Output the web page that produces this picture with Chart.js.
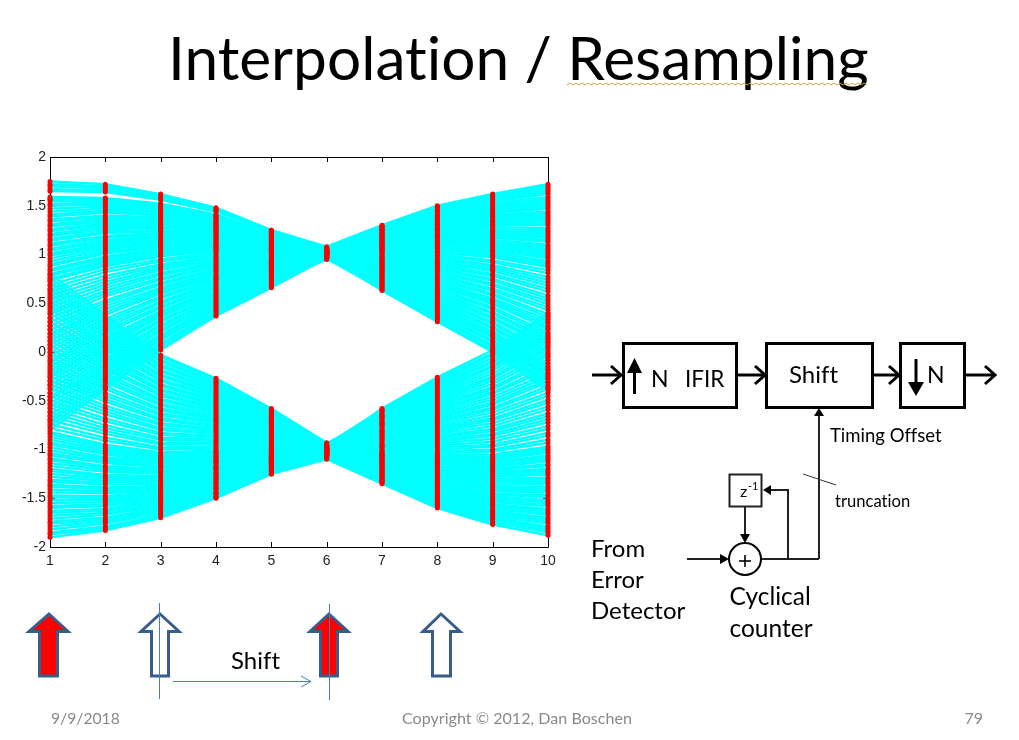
<!DOCTYPE html>
<html><head><meta charset="utf-8">
<script src="https://cdn.jsdelivr.net/npm/chart.js@4"></script>
<style>
html,body{margin:0;padding:0;background:#fff;width:1019px;height:740px;overflow:hidden}
#c{position:absolute;left:0;top:0}
#o{position:absolute;left:0;top:0}
text{font-family:Lato,sans-serif;font-variant-ligatures:none}
</style></head><body>
<canvas id="c" width="1019" height="740"></canvas>
<svg id="o" width="1019" height="740" viewBox="0 0 1019 740">
<text x="168" y="80" font-size="60.4" fill="#000">Interpolation / Resampling</text>
<polyline points="567,85 570,83 573,85 576,83 579,85 582,83 585,85 588,83 591,85 594,83 597,85 600,83 603,85 606,83 609,85 612,83 615,85 618,83 621,85 624,83 627,85 630,83 633,85 636,83 639,85 642,83 645,85 648,83 651,85 654,83 657,85 660,83 663,85 666,83 669,85 672,83 675,85 678,83 681,85 684,83 687,85 690,83 693,85 696,83 699,85 702,83 705,85 708,83 711,85 714,83 717,85 720,83 723,85 726,83 729,85 732,83 735,85 738,83 741,85 744,83 747,85 750,83 753,85 756,83 759,85 762,83 765,85 768,83 771,85 774,83 777,85 780,83 783,85 786,83 789,85 792,83 795,85 798,83 801,85 804,83 807,85 810,83 813,85 816,83 819,85 822,83 825,85 828,83 831,85 834,83 837,85 840,83 843,85 846,83 849,85 852,83 855,85 858,83 861,85 864,83 867,85" fill="none" stroke="#c8a848" stroke-width="1"/>

<g fill="none" stroke="#385d8a" stroke-width="3" stroke-linejoin="miter">
<polygon fill="#ff0000" points="49,614 68,631.5 57.5,631.5 57.5,676 39.5,676 39.5,631.5 29,631.5"/>
<polygon fill="#ffffff" points="160,614 179,631.5 168.5,631.5 168.5,676 151.5,676 151.5,631.5 141,631.5"/>
<polygon fill="#ff0000" points="329,614 348,631.5 337.5,631.5 337.5,676 320.5,676 320.5,631.5 310,631.5"/>
<polygon fill="#ffffff" points="441,614 460,631.5 450.5,631.5 450.5,676 432.5,676 432.5,631.5 423,631.5"/>
</g>
<g fill="none" stroke="#4a7ebb" stroke-width="1">
<line x1="159.5" y1="603" x2="159.5" y2="699"/>
<line x1="329.5" y1="604" x2="329.5" y2="700"/>
<line x1="173" y1="681.5" x2="311" y2="681.5"/>
<polyline points="301,676 311,681.5 301,687"/>
</g>
<text x="231" y="669" font-size="24" fill="#000">Shift</text>

<text x="51" y="724" font-size="15.7" fill="#898989">9/9/2018</text>
<text x="517" y="724" font-size="16.1" fill="#898989" text-anchor="middle">Copyright © 2012, Dan Boschen</text>
<text x="983" y="724" font-size="16" fill="#898989" text-anchor="end">79</text>

<g fill="none" stroke="#000" stroke-width="3">
<rect x="623.5" y="343.5" width="113" height="64"/>
<rect x="766.5" y="343.5" width="106" height="64"/>
<rect x="900.5" y="343.5" width="64" height="64"/>
<line x1="592" y1="375" x2="620" y2="375"/><polyline points="611,366 621,375 611,384"/>
<line x1="738" y1="375" x2="764" y2="375"/><polyline points="755,366 765,375 755,384"/>
<line x1="874" y1="375" x2="898" y2="375"/><polyline points="889,366 899,375 889,384"/>
<line x1="966" y1="375" x2="994" y2="375"/><polyline points="985,366 995,375 985,384"/>
<line x1="634.5" y1="394" x2="634.5" y2="370"/>
<line x1="916" y1="359" x2="916" y2="385"/>
</g>
<polygon points="634.5,358 642,373 627,373" fill="#000"/>
<polygon points="916,396 908,382 924,382" fill="#000"/>
<text x="651" y="387" font-size="23" fill="#000">N</text>
<text x="685" y="387" font-size="22.5" fill="#000">IFIR</text>
<text x="789" y="383" font-size="24" fill="#000">Shift</text>
<text x="927" y="383" font-size="23" fill="#000">N</text>

<g fill="none" stroke="#222" stroke-width="2">
<line x1="819" y1="559" x2="819" y2="416"/>
<rect x="729.5" y="474.5" width="32" height="32"/>
<polyline points="788,559 788,490 770,490"/>
<line x1="745" y1="506" x2="745" y2="536"/>
<line x1="687" y1="559" x2="722" y2="559"/>
<line x1="761" y1="559" x2="819" y2="559"/>
<circle cx="745" cy="559" r="16" stroke="#000"/>
</g>
<polygon points="819,408 824,416 814,416" fill="#000"/>
<polygon points="763,490 771,485 771,495" fill="#000"/>
<polygon points="745,543 740,534 750,534" fill="#000"/>
<polygon points="729,559 720,554 720,564" fill="#000"/>
<line x1="803" y1="474" x2="836" y2="485" stroke="#333" stroke-width="1"/>
<line x1="739" y1="561" x2="751" y2="561" stroke="#000" stroke-width="1.6"/>
<line x1="745" y1="555" x2="745" y2="567" stroke="#000" stroke-width="1.6"/>
<text x="740" y="497" font-size="16" fill="#000">z</text>
<text x="748" y="490" font-size="11" fill="#000">-1</text>
<text x="830" y="442" font-size="18.5" fill="#000">Timing Offset</text>
<text x="835" y="507" font-size="16.6" fill="#000">truncation</text>
<text x="591" y="557" font-size="24" fill="#000">From</text>
<text x="591" y="588" font-size="24" fill="#000">Error</text>
<text x="591" y="619" font-size="24" fill="#000">Detector</text>
<text x="729.5" y="605" font-size="24.5" fill="#000">Cyclical</text>
<text x="729.5" y="637" font-size="24.5" fill="#000">counter</text>
</svg>
<script>
const sampleIndex = [1,2,3,4,5,6,7,8,9,10];
const yTickValues = [-2,-1.5,-1,-0.5,0,0.5,1,1.5,2];
const yTickLabels = ['-2','-1.5','-1','-0.5','0','0.5','1','1.5','2'];
const upperTraces = [
[1.75,1.72,1.62,1.48,1.25,1.08,1.30,1.50,1.62,1.72],
[1.70,1.68,1.59,1.46,1.24,1.05,1.07,1.10,1.07,1.00],
[1.65,1.64,1.56,1.44,1.23,1.02,.75,.52,.29,-.02],
[1.59,1.58,1.52,1.41,1.21,1.06,1.17,1.26,1.30,1.30],
[1.55,1.55,1.49,1.39,1.20,1.03,.89,.77,.63,.43],
[1.50,1.51,1.46,1.37,1.19,1.07,1.26,1.43,1.52,1.59],
[1.44,1.47,1.43,1.35,1.18,1.04,1.03,1.02,.97,.87],
[1.39,1.43,1.40,1.32,1.17,1.00,.69,.42,.15,-.21],
[1.34,1.38,1.36,1.30,1.16,1.05,1.13,1.19,1.20,1.17],
[1.29,1.34,1.33,1.28,1.14,1.02,.83,.67,.49,.24],
[1.24,1.30,1.30,1.26,1.13,1.06,1.22,1.36,1.43,1.47],
[1.19,1.26,1.27,1.24,1.12,1.03,.97,.92,.83,.68],
[1.14,1.22,1.24,1.21,1.11,.99,.63,.31,0,-.40],
[1.09,1.17,1.20,1.19,1.10,1.04,1.09,1.12,1.10,1.04],
[1.04,1.13,1.17,1.17,1.08,1.00,.77,.56,.34,.05],
[.99,1.09,1.14,1.15,1.07,1.05,1.18,1.29,1.33,1.34],
[.93,1.05,1.11,1.12,1.06,1.02,.91,.81,.68,.49],
[.88,1.01,1.08,1.10,1.05,1.05,1.27,1.45,1.56,1.64],
[.83,.96,1.04,1.08,1.04,1.03,1.05,1.05,1.00,.91],
[.78,.92,1.01,1.06,1.03,.99,.71,.45,.19,-.15],
[.73,.88,.98,1.04,1.01,1.04,1.14,1.21,1.23,1.21],
[.65,.82,.93,1.00,1.00,1.00,.85,.70,.53,.30],
[.58,.75,.88,.97,.98,1.04,1.23,1.38,1.46,1.51],
[.50,.69,.84,.94,.96,1.01,.99,.95,.87,.74],
[.42,.63,.79,.90,.94,.98,.65,.35,.05,-.34],
[.35,.57,.74,.87,.93,1.02,1.10,1.14,1.13,1.08],
[.27,.50,.69,.84,.91,.99,.79,.60,.39,.11],
[.19,.44,.64,.80,.89,1.03,1.19,1.31,1.36,1.38],
[.12,.38,.60,.77,.87,1.00,.93,.85,.73,.55],
[.04,.31,.55,.74,.85,1.03,1.29,1.48,1.59,1.68],
[-.04,.25,.50,.70,.84,1.01,1.06,1.07,1.04,.96],
[-.11,.19,.45,.67,.82,.97,.73,.49,.24,-.08],
[-.19,.12,.40,.64,.80,1.01,1.15,1.24,1.26,1.25],
[-.26,.06,.36,.60,.78,.98,.87,.74,.58,.36],
[-.34,0,.31,.57,.77,1.02,1.25,1.40,1.49,1.55],
[-.42,-.07,.26,.54,.75,.99,1.01,.99,.92,.81],
[-.49,-.13,.21,.50,.73,.96,.67,.38,.10,-.27],
[-.57,-.19,.16,.47,.71,1.00,1.11,1.17,1.17,1.13],
[-.65,-.25,.12,.44,.70,.96,.81,.63,.44,.17],
[-.72,-.32,.07,.40,.68,1.00,1.21,1.33,1.39,1.42],
[-.80,-.38,.02,.37,.66,.97,.95,.88,.78,.62],
[1.72,1.70,1.60,1.47,1.25,1.07,1.29,1.49,1.60,1.70],
[1.67,1.66,1.57,1.45,1.23,1.05,1.14,1.22,1.24,1.23],
[1.57,1.56,1.50,1.40,1.20,1.03,.98,.93,.85,.71],
[1.57,1.57,1.50,1.40,1.21,1.00,.76,.54,.31,.01],
[1.52,1.53,1.47,1.38,1.20,1.06,1.24,1.39,1.47,1.53],
[1.47,1.49,1.44,1.36,1.18,1.04,1.09,1.13,1.11,1.06],
[1.41,1.45,1.41,1.33,1.17,1.02,.90,.79,.65,.46],
[1.36,1.40,1.38,1.31,1.16,.98,.68,.40,.12,-.24],
[1.31,1.36,1.34,1.29,1.15,1.05,1.18,1.30,1.34,1.36],
[1.26,1.32,1.31,1.27,1.13,1.03,1.04,1.03,.98,.89],
[1.21,1.28,1.28,1.25,1.12,1.00,.82,.65,.46,.20],
[1.16,1.24,1.25,1.22,1.11,1.06,1.28,1.46,1.57,1.66],
[1.11,1.19,1.22,1.20,1.10,1.04,1.13,1.20,1.21,1.19],
[1.06,1.15,1.18,1.18,1.09,1.01,.96,.90,.80,.65],
[1.01,1.11,1.15,1.16,1.07,.98,.74,.50,.26,-.05],
[.96,1.07,1.12,1.13,1.06,1.05,1.22,1.37,1.44,1.49],
[.90,1.03,1.09,1.11,1.05,1.03,1.08,1.11,1.08,1.02],
[.85,.98,1.06,1.09,1.04,.99,.88,.75,.60,.39],
[.80,.94,1.02,1.07,1.03,.97,.66,.36,.07,-.31],
[.75,.90,.99,1.05,1.02,1.03,1.17,1.27,1.31,1.32],
[.69,.85,.95,1.02,1.00,1.01,1.02,1.00,.94,.84],
[.62,.78,.90,.98,.99,.99,.80,.61,.41,.14],
[.54,.72,.86,.95,.97,1.03,1.26,1.44,1.54,1.62],
[.46,.66,.81,.92,.95,1.01,1.12,1.18,1.18,1.15],
[.39,.60,.76,.88,.93,.99,.94,.86,.75,.58],
[.31,.53,.71,.85,.92,.97,.72,.47,.21,-.12],
[.23,.47,.66,.82,.90,1.03,1.21,1.34,1.41,1.44],
[.16,.41,.62,.78,.88,1.00,1.06,1.08,1.05,.98],
[.08,.34,.57,.75,.86,.98,.86,.72,.55,.33],
[0,.28,.52,.72,.84,.96,.64,.33,.02,-.37],
[-.08,.22,.47,.68,.83,1.02,1.16,1.25,1.28,1.27],
[-.15,.15,.42,.65,.81,1.00,1.00,.97,.89,.77],
[-.23,.09,.38,.62,.79,.97,.78,.58,.36,.08],
[-.30,.03,.33,.58,.77,1.02,1.25,1.41,1.50,1.57],
[-.38,-.03,.28,.55,.76,.99,1.10,1.15,1.15,1.10],
[-.46,-.10,.23,.52,.74,.97,.92,.83,.70,.52],
[-.53,-.16,.18,.48,.72,.95,.70,.43,.17,-.18],
[-.61,-.22,.14,.45,.70,1.00,1.20,1.32,1.38,1.40],
[-.69,-.28,.09,.42,.69,.98,1.05,1.06,1.02,.93],
[-.76,-.35,.04,.38,.67,.96,.84,.68,.51,.27]
];
const lowerTraces = [
[-1.90,-1.83,-1.70,-1.50,-1.25,-1.10,-1.35,-1.60,-1.77,-1.88],
[-1.85,-1.79,-1.67,-1.48,-1.24,-1.07,-1.09,-1.14,-1.16,-1.10],
[-1.79,-1.74,-1.63,-1.45,-1.22,-1.03,-.72,-.50,-.30,-.01],
[-1.74,-1.70,-1.60,-1.43,-1.21,-1.07,-1.20,-1.33,-1.41,-1.42],
[-1.68,-1.65,-1.57,-1.40,-1.20,-1.04,-.88,-.78,-.68,-.49],
[-1.63,-1.61,-1.53,-1.38,-1.18,-1.08,-1.30,-1.52,-1.66,-1.74],
[-1.58,-1.56,-1.50,-1.35,-1.17,-1.05,-1.04,-1.06,-1.05,-.97],
[-1.52,-1.52,-1.47,-1.33,-1.16,-1.01,-.65,-.38,-.14,.19],
[-1.47,-1.48,-1.43,-1.30,-1.14,-1.06,-1.15,-1.25,-1.30,-1.29],
[-1.41,-1.43,-1.40,-1.28,-1.13,-1.02,-.81,-.66,-.52,-.28],
[-1.36,-1.39,-1.37,-1.25,-1.12,-1.06,-1.26,-1.44,-1.56,-1.61],
[-1.31,-1.34,-1.33,-1.23,-1.10,-1.03,-.97,-.94,-.89,-.76],
[-1.25,-1.30,-1.30,-1.20,-1.09,-.99,-.58,-.26,.02,.40],
[-1.20,-1.26,-1.27,-1.18,-1.08,-1.04,-1.10,-1.17,-1.20,-1.15],
[-1.14,-1.21,-1.23,-1.16,-1.06,-1.00,-.74,-.54,-.36,-.08],
[-1.09,-1.17,-1.20,-1.13,-1.05,-1.05,-1.21,-1.36,-1.45,-1.47],
[-1.04,-1.12,-1.17,-1.11,-1.04,-1.01,-.90,-.82,-.73,-.56],
[-.98,-1.08,-1.13,-1.08,-1.02,-1.05,-1.32,-1.55,-1.70,-1.79],
[-.93,-1.03,-1.10,-1.06,-1.01,-1.03,-1.06,-1.09,-1.09,-1.01],
[-.87,-.99,-1.07,-1.03,-1.00,-.98,-.67,-.42,-.19,.13],
[-.82,-.95,-1.03,-1.01,-.98,-1.03,-1.17,-1.28,-1.34,-1.33],
[-.74,-.88,-.98,-.97,-.96,-1.00,-.83,-.70,-.57,-.35],
[-.66,-.81,-.93,-.93,-.94,-1.04,-1.27,-1.47,-1.59,-1.65],
[-.58,-.75,-.88,-.90,-.92,-1.00,-1.00,-.98,-.95,-.83],
[-.50,-.68,-.83,-.86,-.90,-.97,-.60,-.30,-.03,.33],
[-.42,-.61,-.78,-.82,-.88,-1.02,-1.12,-1.20,-1.23,-1.20],
[-.33,-.55,-.73,-.79,-.86,-.98,-.76,-.58,-.41,-.15],
[-.25,-.48,-.68,-.75,-.84,-1.03,-1.23,-1.39,-1.48,-1.52],
[-.17,-.42,-.63,-.71,-.82,-.99,-.93,-.86,-.79,-.63],
[-.09,-.35,-.58,-.68,-.80,-1.03,-1.33,-1.57,-1.73,-1.83],
[-.01,-.28,-.53,-.64,-.78,-1.00,-1.07,-1.12,-1.13,-1.06],
[.07,-.22,-.48,-.60,-.76,-.96,-.70,-.46,-.25,.06],
[.15,-.15,-.43,-.57,-.74,-1.00,-1.18,-1.31,-1.38,-1.38],
[.23,-.08,-.38,-.53,-.72,-.97,-.86,-.74,-.62,-.42],
[.31,-.02,-.33,-.49,-.70,-1.01,-1.29,-1.49,-1.63,-1.70],
[.40,.05,-.28,-.45,-.68,-.98,-1.02,-1.02,-1.00,-.90],
[.48,.11,-.23,-.42,-.66,-.94,-.63,-.34,-.09,.26],
[.56,.18,-.18,-.38,-.64,-.99,-1.13,-1.22,-1.27,-1.24],
[.64,.25,-.13,-.34,-.62,-.95,-.79,-.62,-.46,-.22],
[.72,.31,-.08,-.31,-.60,-.99,-1.24,-1.41,-1.52,-1.56],
[.80,.38,-.03,-.27,-.58,-.93,-.95,-.90,-.84,-.69],
[-1.87,-1.81,-1.68,-1.49,-1.25,-1.09,-1.34,-1.58,-1.75,-1.85],
[-1.82,-1.76,-1.65,-1.46,-1.23,-1.05,-1.17,-1.29,-1.36,-1.35],
[-1.76,-1.72,-1.62,-1.44,-1.22,-1.03,-.98,-.96,-.92,-.79],
[-1.71,-1.67,-1.58,-1.41,-1.20,-1.00,-.73,-.52,-.33,-.04],
[-1.65,-1.63,-1.55,-1.39,-1.19,-1.07,-1.28,-1.48,-1.61,-1.67],
[-1.60,-1.58,-1.52,-1.36,-1.18,-1.05,-1.11,-1.18,-1.21,-1.17],
[-1.55,-1.54,-1.48,-1.34,-1.16,-1.02,-.89,-.80,-.70,-.52],
[-1.49,-1.50,-1.45,-1.31,-1.15,-.99,-.64,-.36,-.11,.23],
[-1.44,-1.45,-1.42,-1.29,-1.14,-1.05,-1.22,-1.37,-1.46,-1.49],
[-1.38,-1.41,-1.38,-1.26,-1.12,-1.03,-1.05,-1.07,-1.07,-.99],
[-1.33,-1.36,-1.35,-1.24,-1.11,-1.00,-.80,-.64,-.49,-.25],
[-1.28,-1.32,-1.32,-1.21,-1.10,-1.06,-1.32,-1.56,-1.71,-1.81],
[-1.22,-1.28,-1.28,-1.19,-1.08,-1.04,-1.16,-1.26,-1.32,-1.31],
[-1.17,-1.23,-1.25,-1.17,-1.07,-1.01,-.96,-.92,-.86,-.72],
[-1.11,-1.19,-1.22,-1.14,-1.06,-.98,-.71,-.48,-.27,.03],
[-1.06,-1.14,-1.18,-1.12,-1.04,-1.05,-1.26,-1.45,-1.57,-1.63],
[-1.01,-1.10,-1.15,-1.09,-1.03,-1.03,-1.09,-1.15,-1.18,-1.12],
[-.95,-1.05,-1.12,-1.07,-1.02,-.99,-.87,-.76,-.65,-.45],
[-.90,-1.01,-1.08,-1.04,-1.00,-.96,-.61,-.32,-.06,.30],
[-.84,-.97,-1.05,-1.02,-.99,-1.03,-1.20,-1.34,-1.43,-1.44],
[-.78,-.91,-1.00,-.99,-.97,-1.01,-1.03,-1.04,-1.02,-.93],
[-.70,-.84,-.95,-.95,-.95,-.99,-.77,-.60,-.43,-.18],
[-.62,-.78,-.90,-.91,-.93,-1.04,-1.31,-1.53,-1.68,-1.76],
[-.54,-.71,-.85,-.88,-.91,-1.01,-1.14,-1.23,-1.28,-1.26],
[-.46,-.64,-.80,-.84,-.89,-.99,-.94,-.88,-.81,-.66],
[-.37,-.58,-.75,-.80,-.87,-.96,-.68,-.44,-.22,.10],
[-.29,-.51,-.70,-.77,-.85,-1.03,-1.25,-1.42,-1.54,-1.58],
[-.21,-.45,-.65,-.73,-.83,-1.00,-1.08,-1.13,-1.14,-1.08],
[-.13,-.38,-.60,-.69,-.81,-.98,-.84,-.72,-.59,-.38],
[-.05,-.31,-.55,-.66,-.79,-.95,-.59,-.28,-.01,.37],
[.03,-.25,-.50,-.62,-.77,-1.02,-1.19,-1.32,-1.39,-1.40],
[.11,-.18,-.45,-.58,-.75,-1.00,-1.01,-1.00,-.97,-.86],
[.19,-.11,-.40,-.55,-.73,-.97,-.75,-.56,-.38,-.11],
[.27,-.05,-.35,-.51,-.71,-1.02,-1.29,-1.50,-1.64,-1.72],
[.35,.02,-.30,-.47,-.69,-.99,-1.12,-1.21,-1.25,-1.22],
[.44,.08,-.25,-.43,-.67,-.97,-.91,-.84,-.76,-.59],
[.52,.15,-.20,-.40,-.65,-.94,-.66,-.40,-.16,.16],
[.60,.22,-.15,-.36,-.63,-1.00,-1.23,-1.40,-1.50,-1.54],
[.68,.28,-.10,-.32,-.61,-.97,-1.06,-1.10,-1.11,-1.03],
[.76,.35,-.05,-.29,-.59,-.95,-.82,-.68,-.54,-.31]
];
const traces = upperTraces.concat(lowerTraces);
const lineSets = traces.map(t => ({
  type:'line',
  data:t.map((v,i)=>({x:sampleIndex[i],y:v})),
  borderColor:'#00ffff', borderWidth:2.4, pointRadius:0, tension:0, order:2, fill:false
}));
const dotSet = {
  type:'scatter',
  data:traces.flatMap(t=>t.map((v,i)=>({x:sampleIndex[i],y:v}))),
  backgroundColor:'#ff0000', borderColor:'#ff0000', pointRadius:2.5, borderWidth:0,
  showLine:false, order:1, clip:false
};
const frame = {
  id:'frame',
  beforeDatasetsDraw(ch){
    const {ctx,chartArea:a,scales:{x,y}} = ch;
    ctx.save();
    ctx.strokeStyle='#000'; ctx.lineWidth=1;
    ctx.beginPath();
    ctx.rect(Math.round(a.left)+.5,Math.round(a.top)+.5,Math.round(a.width),Math.round(a.height));
    sampleIndex.forEach(v=>{
      const p=Math.round(x.getPixelForValue(v))+.5;
      ctx.moveTo(p,a.top);ctx.lineTo(p,a.top+5);
      ctx.moveTo(p,a.bottom);ctx.lineTo(p,a.bottom-5);
    });
    yTickValues.forEach(v=>{
      const p=Math.round(y.getPixelForValue(v))+.5;
      ctx.moveTo(a.left,p);ctx.lineTo(a.left+5,p);
      ctx.moveTo(a.right,p);ctx.lineTo(a.right-5,p);
    });
    ctx.stroke();
    ctx.restore();
  }
};
new Chart(document.getElementById('c'),{
  data:{datasets:[dotSet,...lineSets]},
  plugins:[frame],
  options:{
    responsive:false, animation:false, events:[],
    layout:{padding:{left:0,top:157,right:471,bottom:0}},
    plugins:{legend:{display:false},tooltip:{enabled:false},title:{display:false}},
    scales:{
      x:{type:'linear',min:1,max:10,grid:{display:false,drawTicks:false},border:{display:false},
        afterBuildTicks(s){s.ticks=sampleIndex.map(v=>({value:v}));},
        afterFit(s){s.height=193;},
        ticks:{autoSkip:false,maxRotation:0,padding:6,color:'#222',font:{family:'Liberation Sans',size:14}}},
      y:{type:'linear',min:-2,max:2,grid:{display:false,drawTicks:false},border:{display:false},
        afterBuildTicks(s){s.ticks=yTickValues.map(v=>({value:v}));},
        afterFit(s){s.width=50;},
        ticks:{padding:4,color:'#222',font:{family:'Liberation Sans',size:14},
          callback(v){return yTickLabels[yTickValues.indexOf(v)];}}}
    }
  }
});
</script>
</body></html>
